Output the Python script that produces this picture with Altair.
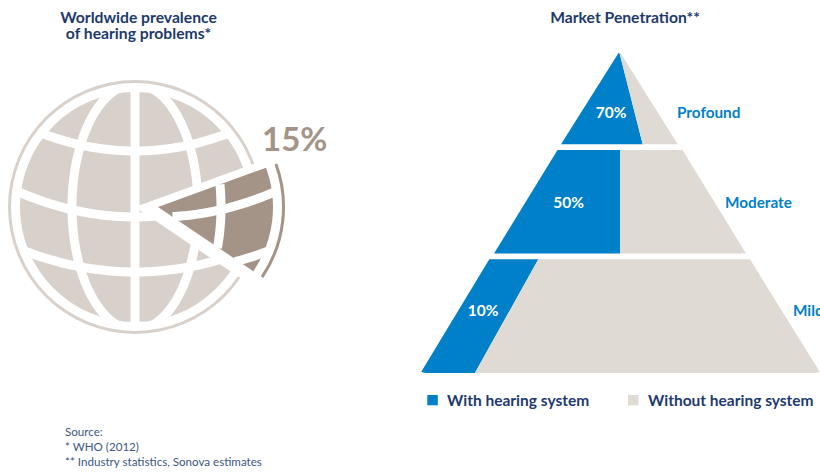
import numpy as np
import pandas as pd
import altair as alt

W, H = 820, 473
FONT = "Lato"
NAVY = "#1d3a6c"
BLUE = "#0080c8"
SAND = "#e0dad5"
GLOBE_LIGHT = "#d8d1cb"
GLOBE_DARK = "#a49488"
SOURCE_INK = "#3d5684"

# Globe
prevalence = 15
globe_center = (135, 207)
wedge_center = (158, 207)
disc_radius = 115
ring_radii = (124, 127)
wedge_start_deg = 70
meridian_half_widths = [-63, 0, 63]
meridian_half_height = 123
parallel_mid_y = [151, 217, 272]
parallel_sag = [16.5, 24, 19]
parallel_reach = [90, 114, 105]

# Pyramid
tier_names = ["Profound", "Moderate", "Mild"]
penetration = [70, 50, 10]
# Blue share of tier width along its top and bottom edge. The Mild split runs
# wider than its 10% label, as the graphic is laid out.
split_top = [70, 50, 18.8]
split_bottom = [70, 50, 13.6]
tier_top_y = [53, 150, 259.3]
tier_bottom_y = [144.3, 253.5, 373]
tier_left_top = [618.5, 557.5, 489.3]
tier_right_top = [620.5, 682.5, 750]
tier_left_bottom = [561, 494, 420.5]
tier_right_bottom = [677.7, 746, 820.5]
tier_rounded = [False, False, True]
pct_label_x = [611, 568.5, 483]
pct_label_y = [112.5, 202.5, 310.5]
name_label_x = [677, 725, 793]

legend_names = ["With hearing system", "Without hearing system"]
legend_colors = [BLUE, SAND]
legend_box_x = [427.3, 628]
legend_text_x = [447, 648]

title_lines = ["Worldwide prevalence", "of hearing problems*", "Market Penetration**"]
title_x = [138.5, 138.5, 625]
title_y = [17.5, 34, 17.5]
source_lines = ["Source:", "* WHO (2012)", "** Industry statistics, Sonova estimates"]
source_y = [433, 447.7, 463]

x_scale = alt.Scale(domain=[0, W], nice=False, zero=False)
y_scale = alt.Scale(domain=[H, 0], nice=False, zero=False)
X = alt.X("x:Q", scale=x_scale, axis=None, stack=None)
Y = alt.Y("y:Q", scale=y_scale, axis=None, stack=None)


def arc_layer(rows, color):
    return alt.Chart(pd.DataFrame(rows)).mark_arc(color=color).encode(
        x=X, y=Y,
        theta=alt.Theta("t0:Q", scale=None),
        theta2="t1:Q",
        radius=alt.Radius("r1:Q", scale=None),
        radius2="r0:Q",
    )


def arc_row(center, t0_deg, t1_deg, r0, r1):
    return {"x": center[0], "y": center[1], "t0": np.radians(t0_deg),
            "t1": np.radians(t1_deg), "r0": r0, "r1": r1}


def grid_paths():
    """Meridians and parallels of the globe as offsets from its centre."""
    paths = []
    ys = np.linspace(-meridian_half_height, meridian_half_height, 121)
    for a in meridian_half_widths:
        paths.append((a * np.sqrt(1 - (ys / meridian_half_height) ** 2), ys))
    for mid, sag, reach in zip(parallel_mid_y, parallel_sag, parallel_reach):
        xs = np.linspace(-125, 125, 121)
        paths.append((xs, mid - globe_center[1] - sag * (xs / reach) ** 2))
    return paths


def grid_layer(center, start=None, sweep=None):
    rows = []
    for i, (dx, dy) in enumerate(grid_paths()):
        r = np.hypot(dx, dy)
        keep = r <= 120
        if start is not None:
            ang = np.degrees(np.arctan2(dx, -dy)) % 360
            keep &= (ang >= start - 1.5) & (ang <= start + sweep + 1.5)
        for k, (px, py) in enumerate(zip(dx[keep], dy[keep])):
            rows.append({"x": center[0] + px, "y": center[1] + py, "path": i, "k": k})
    return alt.Chart(pd.DataFrame(rows)).mark_line(
        color="white", strokeWidth=9, interpolate="linear"
    ).encode(x=X, y=Y, detail="path:N", order=alt.Order("k:Q"))


sweep = prevalence / 100 * 360
full = 360 - 1e-6

globe = [
    arc_layer([arc_row(globe_center, 0, full, 0, disc_radius)], GLOBE_LIGHT),
    grid_layer(globe_center),
    arc_layer([arc_row(globe_center, 0, full, *ring_radii)], GLOBE_LIGHT),
    arc_layer([arc_row(globe_center, wedge_start_deg, wedge_start_deg + sweep, 0, 140)], "white"),
    arc_layer([arc_row(wedge_center, wedge_start_deg, wedge_start_deg + sweep, 0, disc_radius)], GLOBE_DARK),
    grid_layer(wedge_center, wedge_start_deg, sweep),
    arc_layer([arc_row(wedge_center, wedge_start_deg, wedge_start_deg + sweep, *ring_radii)], GLOBE_DARK),
]


def tier_rows(i):
    top, bot = tier_top_y[i], tier_bottom_y[i]
    lt, rt = tier_left_top[i], tier_right_top[i]
    lb, rb = tier_left_bottom[i], tier_right_bottom[i]
    stop = lt + split_top[i] / 100 * (rt - lt)
    sbot = lb + split_bottom[i] / 100 * (rb - lb)
    if i == 0:
        stop = lt + 0.5 * (rt - lt)
    def edge(a, b, y):
        return a + (b - a) * (y - top) / (bot - top)
    ys = [top, bot]
    if tier_rounded[i]:
        ys = [top, bot - 3, bot - 1]
    rows = []
    for y in ys:
        l, r, s = edge(lt, lb, y), edge(rt, rb, y), edge(stop, sbot, y)
        rows.append({"tier": i, "part": "with", "y": y, "x": l, "x2": s})
        rows.append({"tier": i, "part": "without", "y": y, "x": s, "x2": r})
    if tier_rounded[i]:
        rows.append({"tier": i, "part": "with", "y": bot, "x": lb + 5.5, "x2": sbot})
        rows.append({"tier": i, "part": "without", "y": bot, "x": sbot, "x2": rb - 5.5})
    return rows


pyramid_df = pd.DataFrame([row for i in range(3) for row in tier_rows(i)])
pyramid = alt.Chart(pyramid_df).mark_area(orient="horizontal", interpolate="linear").encode(
    y=Y, x=X, x2="x2:Q",
    color=alt.Color("part:N", scale=alt.Scale(domain=["with", "without"], range=[BLUE, SAND]), legend=None),
    detail="tier:N",
)


def text_layer(df, **style):
    style.setdefault("font", FONT)
    return alt.Chart(df).mark_text(baseline="middle", **style).encode(x=X, y=Y, text="t:N")


titles = text_layer(pd.DataFrame({"x": title_x, "y": title_y, "t": title_lines}),
                    fontSize=15.7, fontWeight="bold", color=NAVY, align="center")
headline = text_layer(pd.DataFrame({"x": [262], "y": [141], "t": [f"{prevalence}%"]}),
                      fontSize=33, fontWeight="bold", color=GLOBE_DARK, align="left")
pct_labels = text_layer(pd.DataFrame({"x": pct_label_x, "y": pct_label_y, "t": [f"{v}%" for v in penetration]}),
                        fontSize=15.5, fontWeight="bold", color="white", align="center")
name_labels = text_layer(pd.DataFrame({"x": name_label_x, "y": pct_label_y, "t": tier_names}),
                         fontSize=15.3, fontWeight="bold", color=BLUE, align="left")
legend_text = text_layer(pd.DataFrame({"x": legend_text_x, "y": [400.5, 400.5], "t": legend_names}),
                         fontSize=15.5, fontWeight="bold", color=NAVY, align="left")
source = text_layer(pd.DataFrame({"x": [65, 65, 65], "y": source_y, "t": source_lines}),
                    fontSize=11.6, color=SOURCE_INK, align="left")

legend_boxes = alt.Chart(pd.DataFrame({
    "x": legend_box_x,
    "x2": [v + 10.5 for v in legend_box_x],
    "y": [395, 395],
    "y2": [405.3, 405.3],
    "c": legend_colors,
})).mark_rect().encode(x=X, x2="x2:Q", y=Y, y2="y2:Q", color=alt.Color("c:N", scale=None))

chart = alt.layer(
    *globe, pyramid, legend_boxes, titles, headline, pct_labels, name_labels, legend_text, source
).properties(
    width=W, height=H, padding=0, autosize=alt.AutoSizeParams(type="none")
).configure_view(stroke=None)

chart.save("out.html", embed_options={"renderer": "svg", "actions": False})
